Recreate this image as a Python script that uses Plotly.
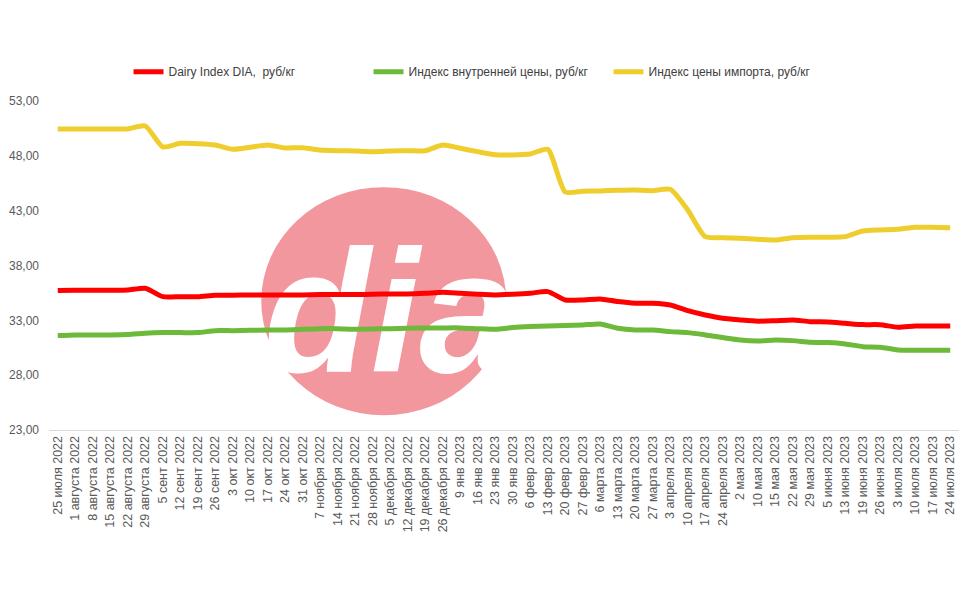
import plotly.graph_objects as go

dates = [
    '25 июля 2022', '1 августа 2022', '8 августа 2022', '15 августа 2022',
    '22 августа 2022', '29 августа 2022', '5 сент 2022', '12 сент 2022',
    '19 сент 2022', '26 сент 2022', '3 окт 2022', '10 окт 2022',
    '17 окт 2022', '24 окт 2022', '31 окт 2022', '7 ноября 2022',
    '14 ноября 2022', '21 ноября 2022', '28 ноября 2022', '5 декабря 2022',
    '12 декабря 2022', '19 декабря 2022', '26 декабря 2022', '9 янв 2023',
    '16 янв 2023', '23 янв 2023', '30 янв 2023', '6 февр 2023',
    '13 февр 2023', '20 февр 2023', '27 февр 2023', '6 марта 2023',
    '13 марта 2023', '20 марта 2023', '27 марта 2023', '3 апреля 2023',
    '10 апреля 2023', '17 апреля 2023', '24 апреля 2023', '2 мая 2023',
    '10 мая 2023', '15 мая 2023', '22 мая 2023', '29 мая 2023',
    '5 июня 2023', '13 июня 2023', '19 июня 2023', '26 июня 2023',
    '3 июля 2023', '10 июля 2023', '17 июля 2023', '24 июля 2023',
]

dairy_index = [
    35.71, 35.74, 35.74, 35.74, 35.76, 35.92, 35.16, 35.16, 35.16, 35.29,
    35.29, 35.32, 35.32, 35.32, 35.32, 35.35, 35.35, 35.35, 35.38, 35.41,
    35.41, 35.47, 35.56, 35.47, 35.38, 35.32, 35.38, 35.47, 35.62, 34.86,
    34.86, 34.95, 34.71, 34.56, 34.56, 34.40, 33.88, 33.49, 33.19, 33.04,
    32.92, 32.97, 33.04, 32.88, 32.85, 32.73, 32.61, 32.60, 32.37, 32.49,
    32.49, 32.49,
]

domestic_index = [
    31.61, 31.67, 31.67, 31.67, 31.70, 31.82, 31.88, 31.88, 31.88, 32.06,
    32.06, 32.09, 32.12, 32.12, 32.18, 32.24, 32.24, 32.18, 32.21, 32.24,
    32.27, 32.31, 32.31, 32.31, 32.24, 32.18, 32.34, 32.43, 32.49, 32.52,
    32.58, 32.67, 32.28, 32.12, 32.12, 31.97, 31.88, 31.67, 31.43, 31.21,
    31.12, 31.21, 31.15, 31.00, 30.97, 30.85, 30.60, 30.55, 30.30, 30.27,
    30.27, 30.27,
]

import_index = [
    50.45, 50.45, 50.45, 50.45, 50.45, 50.72, 48.81, 49.14, 49.11, 48.99,
    48.60, 48.78, 48.99, 48.72, 48.74, 48.53, 48.47, 48.44, 48.38, 48.44,
    48.47, 48.47, 48.99, 48.69, 48.38, 48.10, 48.08, 48.17, 48.60, 44.70,
    44.77, 44.80, 44.86, 44.89, 44.82, 44.95, 43.06, 40.63, 40.54, 40.48,
    40.39, 40.33, 40.54, 40.58, 40.58, 40.63, 41.15, 41.24, 41.30, 41.49,
    41.49, 41.45,
]

series = [
    ('Dairy Index DIA,  руб/кг', dairy_index, '#FF0000'),
    ('Индекс внутренней цены, руб/кг', domestic_index, '#6DB93A'),
    ('Индекс цены импорта, руб/кг', import_index, '#EFCD2D'),
]

TICK_FONT = dict(family='Liberation Sans, Arial, sans-serif', size=12.5, color='#595959')

fig = go.Figure()

# logo text drawn first so that the lines sit on top of it
fig.add_trace(go.Scatter(
    x=[dates[19]], y=[32.3], mode='text', text=['dia'],
    textposition='middle center',
    textfont=dict(family='Liberation Sans, Arial, sans-serif', size=175,
                  color='white', weight='bold', style='italic'),
    showlegend=False, hoverinfo='skip', cliponaxis=False,
))

for name, vals, color in series:
    fig.add_trace(go.Scatter(
        x=dates, y=vals, name=name, mode='lines',
        line=dict(color=color, width=5, shape='spline', smoothing=0.6),
    ))

# pink logo disc
fig.add_shape(
    type='circle', layer='below',
    xref='x', yref='y', xsizemode='pixel', ysizemode='pixel',
    xanchor=18.6, yanchor=34.75,
    x0=-122, x1=123, y0=-114, y1=114,
    fillcolor='#F3979F', line=dict(width=0),
)

# the page body adds an 8px offset, so margins are set 8px smaller on top/left
fig.update_layout(
    width=969, height=606,
    margin=dict(l=41, r=18, t=93, b=184),
    plot_bgcolor='white', paper_bgcolor='white',
    separators=', ',
    showlegend=True,
    legend=dict(
        orientation='h', x=0.483, xanchor='center', y=1.045, yanchor='bottom',
        font=dict(family='Liberation Sans Narrow, Arial Narrow, Liberation Sans, Arial',
                  size=12, color='#404040'),
        itemwidth=30, entrywidth=195, entrywidthmode='pixels',
    ),
    xaxis=dict(
        type='category', categoryorder='array', categoryarray=dates,
        tickangle=-90, tickfont=TICK_FONT, automargin=False,
        showgrid=False, showline=True, linecolor='#D9D9D9', linewidth=1,
        ticks='', range=[-0.5, len(dates) - 0.5],
    ),
    yaxis=dict(
        range=[23, 53], tick0=23, dtick=5, tickformat='.2f',
        tickfont=dict(TICK_FONT, size=12), showgrid=False, zeroline=False,
        ticks='', showline=False, ticklabelstandoff=9, automargin=False,
    ),
)

fig.write_html('out.html')
